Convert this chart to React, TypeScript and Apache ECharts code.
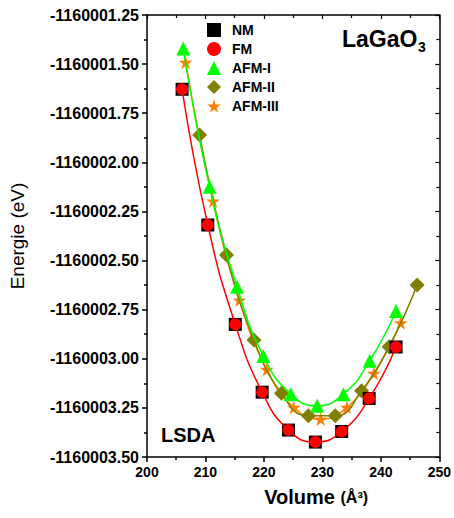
import React, { useEffect, useRef } from "react";
import * as echarts from "echarts";

const volNM = [206.0, 210.4, 215.1, 219.7, 224.2, 228.8, 233.3, 238.0, 242.6];
const eNM = [-1160001.628, -1160002.319, -1160002.825, -1160003.17, -1160003.363, -1160003.424, -1160003.37, -1160003.202, -1160002.94];
const volFM = [206.0, 210.4, 215.1, 219.7, 224.2, 228.8, 233.3, 238.0, 242.6];
const eFM = [-1160001.628, -1160002.319, -1160002.825, -1160003.17, -1160003.363, -1160003.424, -1160003.37, -1160003.202, -1160002.94];
const volAFM1 = [206.2, 210.7, 215.4, 219.9, 224.6, 229.1, 233.6, 238.1, 242.6];
const eAFM1 = [-1160001.42, -1160002.124, -1160002.633, -1160002.986, -1160003.18, -1160003.239, -1160003.18, -1160003.01, -1160002.757];
const volAFM2 = [209.0, 213.6, 218.3, 223.0, 227.6, 232.2, 236.7, 241.4, 246.2];
const eAFM2 = [-1160001.861, -1160002.472, -1160002.905, -1160003.176, -1160003.29, -1160003.29, -1160003.163, -1160002.939, -1160002.625];
const volAFM3 = [206.6, 211.3, 215.8, 220.5, 225.1, 229.7, 234.2, 238.8, 243.4];
const eAFM3 = [-1160001.491, -1160002.197, -1160002.701, -1160003.054, -1160003.247, -1160003.307, -1160003.247, -1160003.074, -1160002.817];

const xTicks = { min: 200, max: 250, interval: 10 };
const yTicks = { min: -1160003.5, max: -1160001.25, interval: 0.25 };

const STAR = "path://M50,0 L61,35 L98,35 L68,57 L79,91 L50,70 L21,91 L32,57 L2,35 L39,35 Z";
const FONT = "'Liberation Sans', Arial, sans-serif";

const zip = (a: number[], b: number[]) => a.map((v, i) => [v, b[i]]);

export default function App() {
  const ref = useRef<HTMLDivElement>(null);
  useEffect(() => {
    document.body.style.margin = "0";
    const chart = echarts.init(ref.current!, undefined, { renderer: "svg" });
    const axisLine = { show: true, lineStyle: { color: "#000", width: 1.5 } };
    chart.setOption({
      animation: false,
      backgroundColor: "#fff",
      grid: { left: 146, right: 13, top: 15, bottom: 61, containLabel: false },
      legend: {
        orient: "vertical",
        left: 207,
        top: 23,
        padding: 0,
        itemWidth: 14,
        itemHeight: 14,
        itemGap: 5,
        textStyle: { fontFamily: FONT, fontWeight: "bold", fontSize: 14, color: "#000", padding: [0, 0, 0, 6] },
        data: [
          { name: "NM", icon: "rect" },
          { name: "FM", icon: "circle" },
          { name: "AFM-I", icon: "triangle" },
          { name: "AFM-II", icon: "diamond" },
          { name: "AFM-III", icon: STAR },
        ],
      },
      xAxis: [
        {
          type: "value",
          min: xTicks.min,
          max: xTicks.max,
          interval: xTicks.interval,
          position: "bottom",
          axisLine,
          axisTick: { show: true, inside: false, length: 5, lineStyle: { color: "#000", width: 1.5 } },
          minorTick: { show: true, splitNumber: 2, length: 3, lineStyle: { color: "#000", width: 1.5 } },
          splitLine: { show: false },
          axisLabel: { fontFamily: FONT, fontWeight: "bold", fontSize: 14, color: "#000", margin: 8 },
          name: "{a|Volume }{b|(Å³)}",
          nameLocation: "middle",
          nameGap: 30,
          nameTextStyle: {
            padding: [0, 0, 0, 46],
            rich: {
              a: { fontFamily: FONT, fontWeight: "bold", fontSize: 20, color: "#000" },
              b: { fontFamily: FONT, fontWeight: "bold", fontSize: 16, color: "#000" },
            },
          },
        },
        {
          type: "value",
          min: xTicks.min,
          max: xTicks.max,
          interval: xTicks.interval,
          position: "top",
          axisLine,
          axisTick: { show: true, inside: true, length: 4, lineStyle: { color: "#000", width: 1.2 } },
          minorTick: { show: true, splitNumber: 2, length: 3, lineStyle: { color: "#000", width: 1.2 } },
          splitLine: { show: false },
          axisLabel: { show: false },
        },
      ],
      yAxis: [
        {
          type: "value",
          min: yTicks.min,
          max: yTicks.max,
          interval: yTicks.interval,
          position: "left",
          axisLine,
          axisTick: { show: true, inside: false, length: 5, lineStyle: { color: "#000", width: 1.5 } },
          minorTick: { show: true, splitNumber: 2, length: 3, lineStyle: { color: "#000", width: 1.5 } },
          splitLine: { show: false },
          axisLabel: {
            fontFamily: FONT,
            fontWeight: "bold",
            fontSize: 16,
            color: "#000",
            margin: 8,
            formatter: (v: number) => v.toFixed(2),
          },
          name: "Energie (eV)",
          nameLocation: "middle",
          nameGap: 120,
          nameTextStyle: { fontFamily: FONT, fontSize: 19, color: "#000" },
        },
        {
          type: "value",
          min: yTicks.min,
          max: yTicks.max,
          interval: yTicks.interval,
          position: "right",
          axisLine,
          axisTick: { show: true, inside: true, length: 4, lineStyle: { color: "#000", width: 1.2 } },
          minorTick: { show: true, splitNumber: 2, length: 3, lineStyle: { color: "#000", width: 1.2 } },
          splitLine: { show: false },
          axisLabel: { show: false },
        },
      ],
      series: [
        {
          name: "AFM-III",
          type: "line",
          smooth: true,
          data: zip(volAFM3, eAFM3),
          symbol: STAR,
          symbolSize: 14,
          lineStyle: { color: "#ff8000", width: 1.5 },
          itemStyle: { color: "#ff8000" },
          z: 2,
        },
        {
          name: "AFM-II",
          type: "line",
          smooth: true,
          data: zip(volAFM2, eAFM2),
          symbol: "diamond",
          symbolSize: 15,
          lineStyle: { color: "#808000", width: 1.5 },
          itemStyle: { color: "#808000" },
          z: 3,
        },
        {
          name: "AFM-I",
          type: "line",
          smooth: true,
          data: zip(volAFM1, eAFM1),
          symbol: "triangle",
          symbolSize: 14,
          lineStyle: { color: "#00ff00", width: 1.5 },
          itemStyle: { color: "#00ff00" },
          z: 4,
        },
        {
          name: "NM",
          type: "line",
          data: zip(volNM, eNM),
          symbol: "rect",
          symbolSize: 13,
          lineStyle: { width: 0, opacity: 0 },
          itemStyle: { color: "#000" },
          z: 5,
        },
        {
          name: "FM",
          type: "line",
          smooth: true,
          data: zip(volFM, eFM),
          symbol: "circle",
          symbolSize: 12,
          lineStyle: { color: "#ff0000", width: 1.5 },
          itemStyle: { color: "#ff0000" },
          z: 6,
        },
      ],
      graphic: [
        {
          type: "text",
          left: 342,
          top: 27,
          style: { text: "LaGaO", fontFamily: FONT, fontWeight: "bold", fontSize: 23, fill: "#000" },
        },
        {
          type: "text",
          left: 418,
          top: 40,
          style: { text: "3", fontFamily: FONT, fontWeight: "bold", fontSize: 14, fill: "#000" },
        },
        {
          type: "text",
          left: 161,
          top: 425,
          style: { text: "LSDA", fontFamily: FONT, fontWeight: "bold", fontSize: 20, fill: "#000" },
        },
      ],
    });
    return () => chart.dispose();
  }, []);
  return <div ref={ref} style={{ width: 454, height: 518 }} />;
}
